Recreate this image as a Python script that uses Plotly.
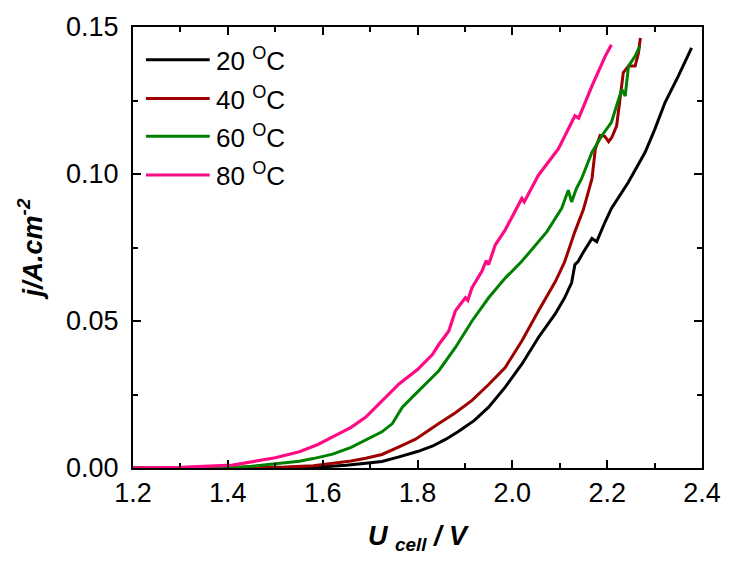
import plotly.graph_objects as go

# ---- data ----
names = ["20 <sup>O</sup>C", "40 <sup>O</sup>C", "60 <sup>O</sup>C", "80 <sup>O</sup>C"]
colors = ["#000000", "#9E0000", "#008000", "#FF0A85"]

u20 = [1.20, 1.50, 1.60, 1.65, 1.691, 1.725, 1.761, 1.80, 1.831, 1.860, 1.887, 1.920, 1.950,
       1.985, 2.020, 2.055, 2.090, 2.110, 2.125, 2.132, 2.139, 2.150, 2.168, 2.178, 2.195,
       2.209, 2.245, 2.280, 2.300, 2.322, 2.350, 2.378]
j20 = [0.0000, 0.0000, 0.0004, 0.0009, 0.0016, 0.0022, 0.0038, 0.0056, 0.0074, 0.0098, 0.0125,
       0.0162, 0.0207, 0.0275, 0.0353, 0.0444, 0.0523, 0.0578, 0.0630, 0.0692, 0.0703, 0.0735,
       0.0781, 0.0770, 0.0835, 0.0883, 0.0973, 0.1074, 0.1150, 0.1243, 0.1333, 0.1429]

u40 = [1.20, 1.45, 1.52, 1.58, 1.621, 1.66, 1.691, 1.725, 1.761, 1.796, 1.845, 1.880, 1.915,
       1.950, 1.985, 2.020, 2.055, 2.091, 2.110, 2.125, 2.132, 2.150, 2.168, 2.175, 2.185,
       2.195, 2.203, 2.210, 2.220, 2.227, 2.234, 2.245, 2.259, 2.266, 2.270]
j40 = [0.0000, 0.0001, 0.0003, 0.0008, 0.0015, 0.0024, 0.0033, 0.0046, 0.0072, 0.0098, 0.0151,
       0.0188, 0.0230, 0.0284, 0.0342, 0.0432, 0.0534, 0.0635, 0.0700, 0.0770, 0.0804, 0.0880,
       0.0984, 0.1085, 0.1131, 0.1128, 0.1110, 0.1125, 0.1164, 0.1254, 0.1345, 0.1367, 0.1367,
       0.1412, 0.1463]

u60 = [1.20, 1.35, 1.41, 1.45, 1.515, 1.551, 1.58, 1.621, 1.66, 1.691, 1.725, 1.747, 1.768,
       1.796, 1.845, 1.880, 1.915, 1.950, 1.985, 2.020, 2.055, 2.073, 2.104, 2.118, 2.125,
       2.135, 2.146, 2.168, 2.189, 2.209, 2.224, 2.231, 2.238, 2.245, 2.259, 2.269]
j60 = [0.0000, 0.0001, 0.0002, 0.0006, 0.0016, 0.0023, 0.0032, 0.0047, 0.0070, 0.0095, 0.0123,
       0.0151, 0.0207, 0.0252, 0.0331, 0.0410, 0.0500, 0.0579, 0.0646, 0.0703, 0.0770, 0.0804,
       0.0883, 0.0945, 0.0905, 0.0950, 0.0984, 0.1074, 0.1131, 0.1176, 0.1254, 0.1288, 0.1265,
       0.1367, 0.1401, 0.1435]

u80 = [1.20, 1.30, 1.41, 1.45, 1.50, 1.551, 1.59, 1.621, 1.66, 1.691, 1.725, 1.761, 1.800,
       1.831, 1.845, 1.866, 1.880, 1.901, 1.906, 1.915, 1.936, 1.945, 1.950, 1.964, 1.985,
       2.020, 2.025, 2.055, 2.097, 2.132, 2.140, 2.168, 2.196, 2.209]
j80 = [0.0000, 0.0002, 0.0010, 0.0020, 0.0035, 0.0055, 0.0080, 0.0106, 0.0138, 0.0173, 0.0228,
       0.0286, 0.0335, 0.0385, 0.0420, 0.0466, 0.0535, 0.0579, 0.0570, 0.0613, 0.0670, 0.0705,
       0.0692, 0.0759, 0.0810, 0.0917, 0.0905, 0.0996, 0.1085, 0.1198, 0.1190, 0.1300, 0.1401,
       0.1440]

series_u = [u20, u40, u60, u80]
series_j = [j20, j40, j60, j80]

x_ticks = [1.2, 1.4, 1.6, 1.8, 2.0, 2.2, 2.4]
y_ticks = [0.00, 0.05, 0.10, 0.15]

FONT = "Liberation Sans, Arial, sans-serif"

fig = go.Figure()
for i in range(4):
    fig.add_trace(go.Scatter(
        x=series_u[i], y=series_j[i], mode="lines", name=names[i],
        showlegend=False,
        line=dict(color=colors[i], width=3.2 if i == 3 else 3),
    ))

axis_common = dict(
    showline=True, linecolor="black", linewidth=2, mirror="ticks",
    ticks="inside", ticklen=8, tickwidth=2, tickcolor="black",
    showgrid=False, zeroline=False,
    tickfont=dict(family=FONT, size=27, color="black"),
)

fig.update_xaxes(
    range=[1.2, 2.4], tickvals=x_ticks, ticktext=[f"{v:.1f}" for v in x_ticks],
    minor=dict(dtick=0.1, tick0=1.2, ticks="inside", ticklen=5, tickwidth=2, tickcolor="black"),
    title=dict(text="U <sub>cell</sub> / V", standoff=19,
               font=dict(family=FONT, size=27, color="black", weight="bold", style="italic")),
    **axis_common,
)
fig.update_yaxes(
    range=[0, 0.15], tickvals=y_ticks, ticktext=[f"{v:.2f}" for v in y_ticks],
    minor=dict(dtick=0.025, tick0=0, ticks="inside", ticklen=5, tickwidth=2, tickcolor="black"),
    ticklabelstandoff=7,
    title=dict(text="j/A.cm<sup>-2</sup>", standoff=16,
               font=dict(family=FONT, size=27, color="black", weight="bold", style="italic")),
    **axis_common,
)

# legend drawn as line samples + labels in paper coordinates (plot area 133..704 x 24..468 px)
PX0, PX1, PY0, PY1 = 133, 704, 24, 468
def px_x(p):
    return (p - PX0) / (PX1 - PX0)
def px_y(p):
    return (PY1 - p) / (PY1 - PY0)

legend_rows = [57, 96, 134, 173]
for i in range(4):
    yy = px_y(legend_rows[i])
    fig.add_shape(type="line", xref="paper", yref="paper",
                  x0=px_x(146), x1=px_x(210), y0=yy, y1=yy,
                  line=dict(color=colors[i], width=3))
    fig.add_annotation(xref="paper", yref="paper", x=px_x(214), y=yy,
                       xanchor="left", yanchor="middle", showarrow=False,
                       text=names[i], font=dict(family=FONT, size=26, color="black"))

fig.update_layout(
    width=733, height=566,
    margin=dict(l=133, r=29, t=24, b=98),
    plot_bgcolor="white", paper_bgcolor="white",
    font=dict(family=FONT, color="black"),
    showlegend=False,
)

fig.write_html("out.html")
